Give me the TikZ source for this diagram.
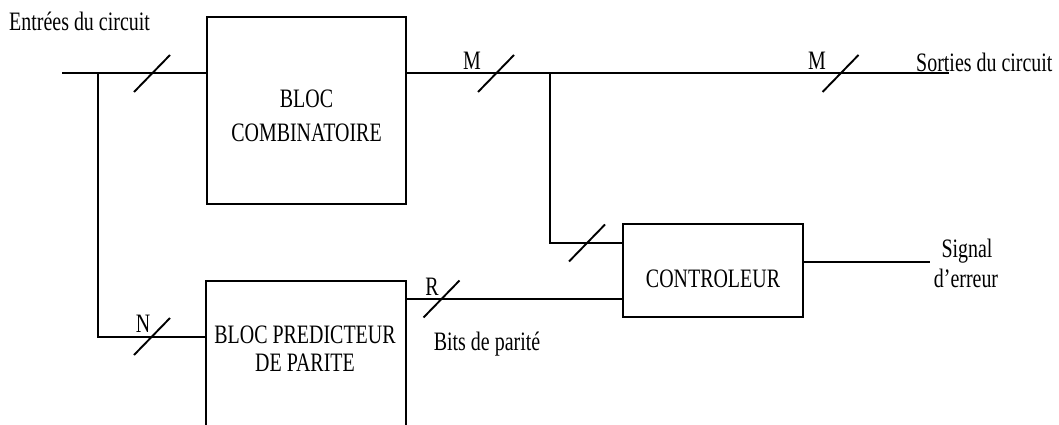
\documentclass[tikz,border=0pt]{standalone}
\usepackage{fontspec}
\setmainfont{Liberation Serif}[FakeStretch=0.75]
\begin{document}
\begin{tikzpicture}[x=1pt,y=-1pt,
  wire/.style={line width=1.9pt},
  blk/.style={draw,line width=1.9pt,rectangle,inner sep=0pt},
  lbl/.style={font=\fontsize{26.6}{30}\selectfont,inner sep=0pt,anchor=base},
  slashmark/.style={line width=1.9pt}]
\useasboundingbox (0,0) rectangle (1059,425);
% blocks
\node[blk,minimum width=199pt,minimum height=187pt] (comb) at (306.5,110.5) {};
\node[blk,minimum width=200pt,minimum height=150pt] (pred) at (306,356) {};
\node[blk,minimum width=180pt,minimum height=93pt] (ctrl) at (713,270.5) {};
% block texts
\node[lbl] (comb1) at (306.5,108) {BLOC};
\node[lbl] (comb2) at (306.5,141) {COMBINATOIRE};
\node[lbl] (pred1) at (305,343) {BLOC PREDICTEUR};
\node[lbl] (pred2) at (305,371) {DE PARITE};
\node[lbl] (ctrlt) at (713,287) {CONTROLEUR};
% points
\coordinate (in) at (62,73);
\coordinate (j1) at (98,73);
\coordinate (j2) at (550,73);
\coordinate (outend) at (949,73);
\coordinate (errend) at (930,262);
% connectors
\draw[wire] (in) -- (in -| comb.west);
\draw[wire] (j1) |- (pred.west |- 0,337);
\draw[wire] (comb.east |- in) -- (outend);
\draw[wire] (j2) |- (ctrl.west |- 0,243);
\draw[wire] (pred.east |- 0,299) -- (ctrl.west |- 0,299);
\draw[wire] (ctrl.east |- errend) -- (errend);
% bus slashes
\coordinate (s1) at (152,73.5);
\coordinate (s2) at (496,73.5);
\coordinate (s3) at (840.5,73.5);
\coordinate (s4) at (152,336.5);
\coordinate (s5) at (441.5,299);
\coordinate (s6) at (587,243);
\foreach \s in {s1,s2,s3,s4,s5,s6}
  \draw[slashmark] ([shift={(-18,18.5)}]\s) -- ([shift={(18,-18.5)}]\s);
% labels
\node[lbl,anchor=base west] (entrees) at (9,31) {Entrées du circuit};
\node[lbl,anchor=base west] (sorties) at (916,72) {Sorties du circuit};
\node[lbl] (m1) at (472,70) {M};
\node[lbl] (m2) at (817,70) {M};
\node[lbl] (n1) at (143,332) {N};
\node[lbl] (r1) at (432,295) {R};
\node[lbl] (bits) at (487,350) {Bits de parité};
\node[lbl] (sig1) at (967,257) {Signal};
\node[lbl] (sig2) at (966,287) {d’erreur};
\end{tikzpicture}
\end{document}
